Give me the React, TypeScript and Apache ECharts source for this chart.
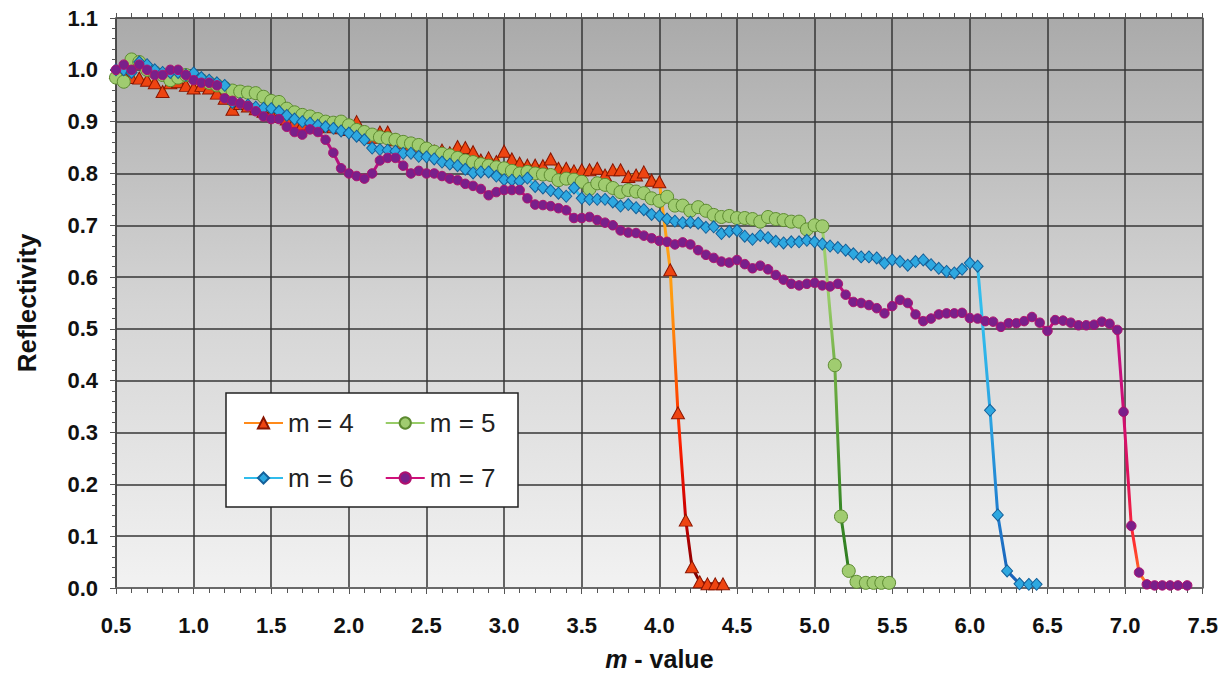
import React, { useEffect, useRef } from 'react';
import * as echarts from 'echarts';

// Shared sampling positions (m-value) for the sloping part of each curve
const mSamples = [
  0.50, 0.55, 0.60, 0.65, 0.70, 0.75, 0.80, 0.85, 0.90, 0.95,
  1.00, 1.05, 1.10, 1.15, 1.20, 1.25, 1.30, 1.35, 1.40, 1.45,
  1.50, 1.55, 1.60, 1.65, 1.70, 1.75, 1.80, 1.85, 1.90, 1.95,
  2.00, 2.05, 2.10, 2.15, 2.20, 2.25, 2.30, 2.35, 2.40, 2.45,
  2.50, 2.55, 2.60, 2.65, 2.70, 2.75, 2.80, 2.85, 2.90, 2.95,
  3.00, 3.05, 3.10, 3.15, 3.20, 3.25, 3.30, 3.35, 3.40, 3.45,
  3.50, 3.55, 3.60, 3.65, 3.70, 3.75, 3.80, 3.85, 3.90, 3.95,
  4.00, 4.05, 4.10, 4.15, 4.20, 4.25, 4.30, 4.35, 4.40, 4.45,
  4.50, 4.55, 4.60, 4.65, 4.70, 4.75, 4.80, 4.85, 4.90, 4.95,
  5.00, 5.05, 5.10, 5.15, 5.20, 5.25, 5.30, 5.35, 5.40, 5.45,
  5.50, 5.55, 5.60, 5.65, 5.70, 5.75, 5.80, 5.85, 5.90, 5.95,
  6.00, 6.05, 6.10, 6.15, 6.20, 6.25, 6.30, 6.35, 6.40, 6.45,
  6.50, 6.55, 6.60, 6.65, 6.70, 6.75, 6.80, 6.85, 6.90, 6.95,
];

// m = 4
const reflM4 = [
  0.995, 0.99, 0.985, 0.984, 0.98, 0.975, 0.958, 0.975, 0.977, 0.97,
  0.965, 0.97, 0.965, 0.955, 0.945, 0.924, 0.935, 0.93, 0.925, 0.92,
  0.915, 0.91, 0.905, 0.90, 0.895, 0.89, 0.89, 0.893, 0.89, 0.888,
  0.885, 0.90, 0.875, 0.87, 0.88, 0.88, 0.865, 0.86, 0.855, 0.85,
  0.848, 0.843, 0.845, 0.84, 0.852, 0.85, 0.842, 0.826, 0.83, 0.823,
  0.843, 0.828, 0.82, 0.816, 0.816, 0.815, 0.828, 0.81, 0.81, 0.805,
  0.807, 0.807, 0.81, 0.797, 0.807, 0.807, 0.794, 0.797, 0.803, 0.787,
  0.784,
];
const dropM4X = [4.07, 4.12, 4.17, 4.21, 4.26, 4.31, 4.36, 4.41];
const dropM4Y = [0.614, 0.338, 0.131, 0.041, 0.012, 0.008, 0.008, 0.008];

// m = 5
const reflM5 = [
  0.985, 0.977, 1.02, 1.015, 1.00, 0.995, 0.99, 0.98, 0.985, 0.99,
  0.985, 0.98, 0.975, 0.97, 0.965, 0.96, 0.958, 0.956, 0.955, 0.948,
  0.94, 0.938, 0.925, 0.918, 0.913, 0.91, 0.905, 0.90, 0.898, 0.90,
  0.893, 0.884, 0.88, 0.875, 0.87, 0.868, 0.865, 0.861, 0.858, 0.855,
  0.848, 0.842, 0.838, 0.835, 0.83, 0.825, 0.822, 0.818, 0.815, 0.812,
  0.81, 0.805, 0.80, 0.803, 0.80, 0.798, 0.797, 0.787, 0.79, 0.788,
  0.784, 0.77, 0.781, 0.778, 0.772, 0.764, 0.768, 0.765, 0.762, 0.752,
  0.747, 0.755, 0.738, 0.738, 0.728, 0.735, 0.728, 0.72, 0.716, 0.718,
  0.714, 0.714, 0.712, 0.707, 0.716, 0.712, 0.71, 0.707, 0.707, 0.692,
  0.70, 0.698,
];
const dropM5X = [5.13, 5.17, 5.22, 5.27, 5.33, 5.38, 5.43, 5.48];
const dropM5Y = [0.43, 0.138, 0.033, 0.012, 0.01, 0.01, 0.01, 0.01];

// m = 6
const reflM6 = [
  1.00, 1.00, 0.995, 1.015, 1.01, 1.00, 0.995, 0.995, 0.995, 0.99,
  0.994, 0.985, 0.98, 0.975, 0.97, 0.937, 0.935, 0.932, 0.928, 0.926,
  0.925, 0.92, 0.912, 0.905, 0.90, 0.897, 0.893, 0.89, 0.887, 0.882,
  0.878, 0.872, 0.865, 0.849, 0.846, 0.845, 0.843, 0.839, 0.839, 0.833,
  0.832, 0.828, 0.822, 0.818, 0.815, 0.808, 0.801, 0.803, 0.803, 0.795,
  0.788, 0.787, 0.785, 0.791, 0.775, 0.772, 0.767, 0.762, 0.756, 0.772,
  0.752, 0.75, 0.75, 0.75, 0.745, 0.737, 0.74, 0.734, 0.73, 0.721,
  0.718, 0.712, 0.708, 0.705, 0.706, 0.704, 0.696, 0.697, 0.684, 0.688,
  0.69, 0.679, 0.673, 0.68, 0.676, 0.669, 0.666, 0.668, 0.668, 0.671,
  0.668, 0.664, 0.66, 0.657, 0.652, 0.645, 0.639, 0.639, 0.637, 0.627,
  0.633, 0.63, 0.623, 0.63, 0.633, 0.624, 0.617, 0.611, 0.608, 0.615,
  0.627, 0.621,
];
const dropM6X = [6.13, 6.18, 6.24, 6.32, 6.38, 6.43];
const dropM6Y = [0.343, 0.141, 0.033, 0.008, 0.007, 0.007];

// m = 7
const reflM7 = [
  1.00, 1.01, 1.00, 1.01, 1.00, 0.99, 0.99, 1.00, 1.00, 0.99,
  0.98, 0.975, 0.975, 0.97, 0.945, 0.94, 0.935, 0.93, 0.92, 0.91,
  0.905, 0.905, 0.89, 0.88, 0.875, 0.885, 0.88, 0.865, 0.84, 0.81,
  0.80, 0.795, 0.79, 0.80, 0.825, 0.83, 0.83, 0.815, 0.80, 0.805,
  0.80, 0.80, 0.795, 0.79, 0.787, 0.78, 0.776, 0.77, 0.758, 0.764,
  0.768, 0.768, 0.768, 0.752, 0.74, 0.739, 0.737, 0.733, 0.729, 0.714,
  0.714, 0.716, 0.71, 0.705, 0.70, 0.69, 0.686, 0.685, 0.68, 0.675,
  0.67, 0.668, 0.663, 0.667, 0.663, 0.652, 0.643, 0.637, 0.63, 0.628,
  0.633, 0.625, 0.617, 0.622, 0.615, 0.604, 0.595, 0.587, 0.584, 0.587,
  0.589, 0.584, 0.582, 0.587, 0.566, 0.552, 0.55, 0.546, 0.54, 0.53,
  0.544, 0.556, 0.55, 0.528, 0.515, 0.52, 0.528, 0.53, 0.53, 0.531,
  0.521, 0.52, 0.515, 0.514, 0.504, 0.511, 0.511, 0.515, 0.523, 0.512,
  0.496, 0.517, 0.516, 0.512, 0.507, 0.507, 0.508, 0.514, 0.51, 0.498,
];
const dropM7X = [6.99, 7.04, 7.09, 7.14, 7.19, 7.24, 7.29, 7.34, 7.40];
const dropM7Y = [0.34, 0.12, 0.03, 0.007, 0.005, 0.005, 0.005, 0.005, 0.005];

const seriesNames = ['m = 4', 'm = 5', 'm = 6', 'm = 7'];

export default function App() {
  const ref = useRef<HTMLDivElement>(null);

  useEffect(() => {
    if (!ref.current) return;
    const chart = echarts.init(ref.current, undefined, { renderer: 'svg' });
    const font = '"Liberation Sans", Arial, Helvetica, sans-serif';

    const build = (ys: number[], dx: number[], dy: number[]) => [
      ...ys.map((y, i) => [mSamples[i], y]),
      ...dx.map((x, i) => [x, dy[i]]),
    ];
    const grad = (stops: [number, string][]) =>
      new echarts.graphic.LinearGradient(
        0, 0, 0, 1,
        stops.map(([o, c]) => ({ offset: o, color: c }))
      );

    const line4 = grad([[0, '#ffb020'], [0.45, '#ff9a10'], [0.6, '#ff5a00'], [0.72, '#ff2000'], [0.86, '#cc0000'], [1, '#7a0000']]);
    const line5 = grad([[0, '#a8d878'], [0.45, '#98cc68'], [0.62, '#6aaa40'], [0.85, '#3a8a28'], [1, '#2e7a20']]);
    const line6 = grad([[0, '#38c4f0'], [0.5, '#30bcec'], [0.7, '#2aa0e0'], [0.85, '#2080d0'], [1, '#1a60b8']]);
    const line7 = grad([[0, '#b01080'], [0.6, '#c8107e'], [0.8, '#e0105a'], [0.92, '#ff3030'], [1, '#ff8020']]);

    const legendText = { fontSize: 26, color: '#222', fontFamily: font };

    const option: any = {
      animation: false,
      backgroundColor: '#ffffff',
      grid: {
        left: 116,
        right: 17,
        top: 18,
        bottom: 93,
        show: true,
        borderWidth: 0,
        backgroundColor: grad([[0, '#aaaaaa'], [0.5, '#d4d4d4'], [1, '#f2f2f2']]),
      },
      graphic: [
        {
          type: 'rect',
          z: 3,
          shape: { x: 226, y: 393, width: 292, height: 114 },
          style: { fill: '#ffffff', stroke: '#222222', lineWidth: 1.5 },
        },
      ],
      legend: [
        {
          z: 5,
          left: 243,
          top: 410,
          padding: 0,
          itemWidth: 39,
          itemHeight: 14,
          itemGap: 31,
          textStyle: legendText,
          data: [
            { name: seriesNames[0], lineStyle: { color: '#ff8a1a' } },
            { name: seriesNames[1], lineStyle: { color: '#98cc68' } },
          ],
        },
        {
          z: 5,
          left: 243,
          top: 465,
          padding: 0,
          itemWidth: 39,
          itemHeight: 14,
          itemGap: 31,
          textStyle: legendText,
          data: [
            { name: seriesNames[2], lineStyle: { color: '#30bcec' } },
            { name: seriesNames[3], lineStyle: { color: '#d0107a' } },
          ],
        },
      ],
      xAxis: [
        {
          type: 'value',
          position: 'bottom',
          min: 0.5,
          max: 7.5,
          interval: 0.5,
          axisLine: { show: true, onZero: false, lineStyle: { color: '#6a6a6a', width: 2 } },
          axisTick: { show: true, inside: false, length: 6, lineStyle: { color: '#555' } },
          minorTick: { show: true, splitNumber: 5, length: 5, lineStyle: { color: '#555' } },
          axisLabel: {
            formatter: (v: number) => v.toFixed(1),
            fontSize: 22,
            fontWeight: 'bold',
            color: '#111',
            margin: 26,
            fontFamily: font,
          },
          splitLine: { show: true, lineStyle: { color: '#363636', width: 1.5 } },
          name: '{i|m} - value',
          nameLocation: 'middle',
          nameGap: 58,
          nameTextStyle: {
            fontSize: 25,
            fontWeight: 'bold',
            color: '#111',
            fontFamily: font,
            rich: {
              i: { fontStyle: 'italic', fontSize: 25, fontWeight: 'bold', color: '#111', fontFamily: font },
            },
          },
        },
        {
          type: 'value',
          position: 'top',
          min: 0.5,
          max: 7.5,
          interval: 0.5,
          axisLine: { show: true, onZero: false, lineStyle: { color: '#555', width: 1.5 } },
          axisTick: { show: true, inside: false, length: 5, lineStyle: { color: '#555' } },
          minorTick: { show: true, splitNumber: 5, length: 5, lineStyle: { color: '#555' } },
          axisLabel: { show: false },
          splitLine: { show: false },
        },
      ],
      yAxis: {
        type: 'value',
        min: 0,
        max: 1.1,
        interval: 0.1,
        axisLine: { show: true, onZero: false, lineStyle: { color: '#444', width: 1.5 } },
        axisTick: { show: true, inside: false, length: 6, lineStyle: { color: '#555' } },
        minorTick: { show: true, splitNumber: 5, length: 4, lineStyle: { color: '#555' } },
        axisLabel: {
          formatter: (v: number) => v.toFixed(1),
          fontSize: 22,
          fontWeight: 'bold',
          color: '#111',
          margin: 18,
          fontFamily: font,
        },
        splitLine: { show: true, lineStyle: { color: '#363636', width: 1.5 } },
        name: 'Reflectivity',
        nameLocation: 'middle',
        nameGap: 76,
        nameTextStyle: { fontSize: 26, fontWeight: 'bold', color: '#111', fontFamily: font },
      },
      series: [
        {
          name: seriesNames[0],
          type: 'line',
          data: build(reflM4, dropM4X, dropM4Y),
          symbol: 'triangle',
          symbolSize: [13, 12],
          showAllSymbol: true,
          lineStyle: { width: 3, color: line4 },
          itemStyle: { color: '#ee4411', borderColor: '#8a1500', borderWidth: 1 },
          emphasis: { disabled: true },
          z: 2,
        },
        {
          name: seriesNames[1],
          type: 'line',
          data: build(reflM5, dropM5X, dropM5Y),
          symbol: 'circle',
          symbolSize: 13,
          showAllSymbol: true,
          lineStyle: { width: 3, color: line5 },
          itemStyle: { color: '#a0cc70', borderColor: '#5c8a30', borderWidth: 1 },
          emphasis: { disabled: true },
          z: 2,
        },
        {
          name: seriesNames[2],
          type: 'line',
          data: build(reflM6, dropM6X, dropM6Y),
          symbol: 'diamond',
          symbolSize: [11, 12],
          showAllSymbol: true,
          lineStyle: { width: 3, color: line6 },
          itemStyle: { color: '#2ea8e0', borderColor: '#14609a', borderWidth: 1 },
          emphasis: { disabled: true },
          z: 2,
        },
        {
          name: seriesNames[3],
          type: 'line',
          data: build(reflM7, dropM7X, dropM7Y),
          symbol: 'circle',
          symbolSize: 9.5,
          showAllSymbol: true,
          lineStyle: { width: 3, color: line7 },
          itemStyle: { color: '#7a1f8a', borderColor: '#b0106e', borderWidth: 1 },
          emphasis: { disabled: true },
          z: 2,
        },
      ],
    };

    chart.setOption(option);
    return () => {
      chart.dispose();
    };
  }, []);

  return (
    <div
      ref={ref}
      style={{ position: 'fixed', left: 0, top: 0, width: 1221, height: 681 }}
    />
  );
}
